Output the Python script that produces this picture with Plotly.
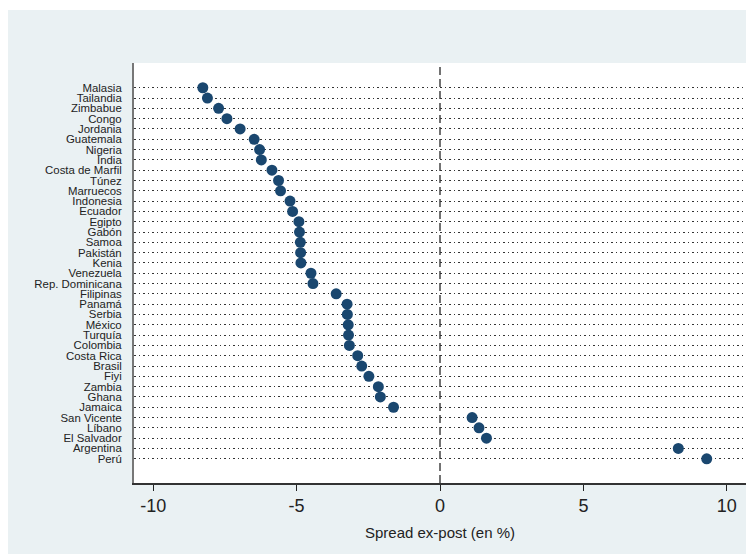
import plotly.graph_objects as go

countries = ["Malasia", "Tailandia", "Zimbabue", "Congo", "Jordania", "Guatemala",
             "Nigeria", "India", "Costa de Marfil", "Túnez", "Marruecos", "Indonesia",
             "Ecuador", "Egipto", "Gabón", "Samoa", "Pakistán", "Kenia", "Venezuela",
             "Rep. Dominicana", "Filipinas", "Panamá", "Serbia", "México", "Turquía",
             "Colombia", "Costa Rica", "Brasil", "Fiyi", "Zambia", "Ghana", "Jamaica",
             "San Vicente", "Líbano", "El Salvador", "Argentina", "Perú"]
spread = [-8.27, -8.11, -7.72, -7.43, -6.97, -6.48,
          -6.29, -6.23, -5.86, -5.63, -5.56, -5.23,
          -5.14, -4.92, -4.90, -4.87, -4.86, -4.85, -4.50,
          -4.43, -3.62, -3.24, -3.23, -3.20, -3.19,
          -3.16, -2.87, -2.73, -2.48, -2.15, -2.08, -1.62,
          1.12, 1.36, 1.62, 8.31, 9.30]
x_ticks = [-10, -5, 0, 5, 10]
x_ticklabels = ["-10", "-5", "0", "5", "10"]
x_title = "Spread ex-post (en %)"

BG = "#EAF1F3"
FONT = "Liberation Sans, Arial, sans-serif"

fig = go.Figure()
fig.add_trace(go.Scatter(
    x=spread, y=countries, mode="markers",
    marker=dict(size=11, color="#1A476F", line=dict(width=0)),
    showlegend=False, cliponaxis=False,
))

n = len(countries)
PW, PH = 611.6, 420.0
fig.update_layout(
    width=754, height=554,
    margin=dict(l=126, r=16.4, t=55, b=79, autoexpand=False),
    paper_bgcolor=BG, plot_bgcolor="white",
    font=dict(family=FONT, color="#111"),
    xaxis=dict(
        range=[-10.67, 10.67], tickmode="array", tickvals=x_ticks, ticktext=x_ticklabels,
        ticks="outside", ticklen=6, tickcolor="#222", tickwidth=1.2,
        showgrid=False, zeroline=False, showline=True, linecolor="#333", linewidth=1.5,
        tickfont=dict(size=18, color="#222"),
        title=dict(text=x_title, font=dict(size=15, color="#222"), standoff=12),
    ),
    yaxis=dict(
        type="category", categoryorder="array", categoryarray=countries,
        tickmode="array", tickvals=countries, ticktext=countries,
        range=[n - 1 + 2.35, -2.4],
        showgrid=True, gridcolor="#333", gridwidth=1.3, griddash="1.5px,3px",
        zeroline=False, showline=True, linecolor="#777", linewidth=2,
        ticks="", ticklabelstandoff=8,
        tickfont=dict(size=11.4, color="#222"),
    ),
    shapes=[
        dict(type="line", xref="x", yref="paper", x0=0, x1=0, y0=0, y1=1,
             line=dict(color="#444", width=1.5, dash="8px,4px"), layer="below"),
        # thin white strip along the top edge
        dict(type="rect", xref="paper", yref="paper", x0=-0.3, x1=1.1,
             y0=(PH + 55 - 2) / PH, y1=(PH + 55 + 5) / PH,
             fillcolor="white", line=dict(width=0)),
    ],
)

fig.write_html("out.html")
